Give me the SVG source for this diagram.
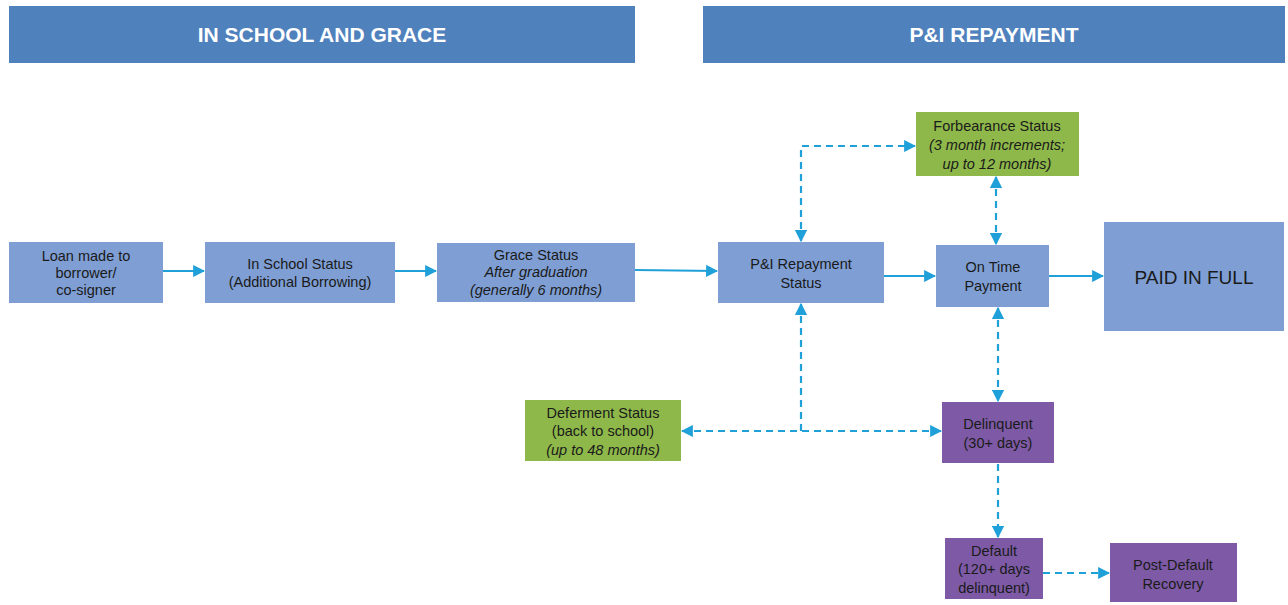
<svg xmlns="http://www.w3.org/2000/svg" width="1288" height="605" viewBox="0 0 1288 605">
<style>
.hdr{fill:#4f81bd}
.hdt{font-family:"Liberation Sans",Arial,sans-serif;font-weight:bold;font-size:21px;fill:#fff;text-anchor:middle}
.b{fill:#7f9fd4}
.g{fill:#8fb84a}
.p{fill:#7e5aa6}
.t{font-family:"Liberation Sans",Arial,sans-serif;font-size:14.5px;fill:#1a1a1a;text-anchor:middle}
.i{font-style:italic}
.s{stroke:#1fa0d8;stroke-width:2.2;fill:none}
.d{stroke-dasharray:7 5}
</style>
<defs>
<marker id="ah" viewBox="0 0 10 10" refX="9" refY="5" markerWidth="5.5" markerHeight="5.5" orient="auto-start-reverse">
<path d="M0,0 L10,5 L0,10 z" fill="#1fa0d8"/>
</marker>
</defs>
<g id="header-school"><rect class="hdr" x="9" y="6" width="626" height="57"/><text class="hdt" x="322" y="42">IN SCHOOL AND GRACE</text></g>
<g id="header-repay"><rect class="hdr" x="703" y="6" width="582" height="57"/><text class="hdt" x="994" y="42">P&amp;I REPAYMENT</text></g>

<g id="connectors">
<line class="s" x1="163" y1="271" x2="204" y2="271" marker-end="url(#ah)"/>
<line class="s" x1="395" y1="271" x2="436" y2="271" marker-end="url(#ah)"/>
<line class="s" x1="635" y1="270" x2="717" y2="271" marker-end="url(#ah)"/>
<line class="s" x1="884" y1="276" x2="935" y2="276" marker-end="url(#ah)"/>
<line class="s" x1="1049" y1="276" x2="1103" y2="276" marker-end="url(#ah)"/>
<path class="s d" d="M801,241 V146 H915" marker-start="url(#ah)" marker-end="url(#ah)"/>
<line class="s d" x1="996" y1="177" x2="996" y2="244" marker-start="url(#ah)" marker-end="url(#ah)"/>
<line class="s d" x1="998" y1="308" x2="998" y2="401" marker-start="url(#ah)" marker-end="url(#ah)"/>
<line class="s d" x1="801" y1="304" x2="801" y2="431" marker-start="url(#ah)"/>
<line class="s d" x1="682" y1="431" x2="941" y2="431" marker-start="url(#ah)" marker-end="url(#ah)"/>
<line class="s d" x1="998" y1="464" x2="998" y2="537" marker-end="url(#ah)"/>
<line class="s d" x1="1043" y1="573" x2="1109" y2="573" marker-end="url(#ah)"/>
</g>

<g id="loan"><rect class="b" x="9" y="242" width="154" height="61"/><text class="t" x="86" y="261">Loan made to</text><text class="t" x="86" y="278">borrower/</text><text class="t" x="86" y="295">co-signer</text></g>
<g id="inschool"><rect class="b" x="205" y="242" width="190" height="61"/><text class="t" x="300" y="269">In School Status</text><text class="t" x="300" y="287">(Additional Borrowing)</text></g>
<g id="grace"><rect class="b" x="437" y="243" width="198" height="59"/><text class="t" x="536" y="260">Grace Status</text><text class="t i" x="536" y="277">After graduation</text><text class="t i" x="536" y="295">(generally 6 months)</text></g>
<g id="repayment"><rect class="b" x="718" y="242" width="166" height="61"/><text class="t" x="801" y="269">P&amp;I Repayment</text><text class="t" x="801" y="288">Status</text></g>
<g id="ontime"><rect class="b" x="936" y="245" width="113" height="62"/><text class="t" x="993" y="272">On Time</text><text class="t" x="993" y="291">Payment</text></g>
<g id="paid"><rect class="b" x="1104" y="222" width="180" height="109"/><text class="t" x="1194" y="284" style="font-size:19px">PAID IN FULL</text></g>
<g id="forbearance"><rect class="g" x="916" y="112" width="163" height="64"/><text class="t" x="997" y="131">Forbearance Status</text><text class="t i" x="997" y="150">(3 month increments;</text><text class="t i" x="997" y="169">up to 12 months)</text></g>
<g id="deferment"><rect class="g" x="525" y="400" width="156" height="61"/><text class="t" x="603" y="418">Deferment Status</text><text class="t" x="603" y="436">(back to school)</text><text class="t i" x="603" y="455">(up to 48 months)</text></g>
<g id="delinquent"><rect class="p" x="942" y="402" width="112" height="61"/><text class="t" x="998" y="429">Delinquent</text><text class="t" x="998" y="448">(30+ days)</text></g>
<g id="default"><rect class="p" x="945" y="538" width="98" height="61"/><text class="t" x="994" y="556">Default</text><text class="t" x="994" y="574">(120+ days</text><text class="t" x="994" y="593">delinquent)</text></g>
<g id="postdefault"><rect class="p" x="1110" y="543" width="127" height="59"/><text class="t" x="1173" y="570">Post-Default</text><text class="t" x="1173" y="589">Recovery</text></g>
</svg>
